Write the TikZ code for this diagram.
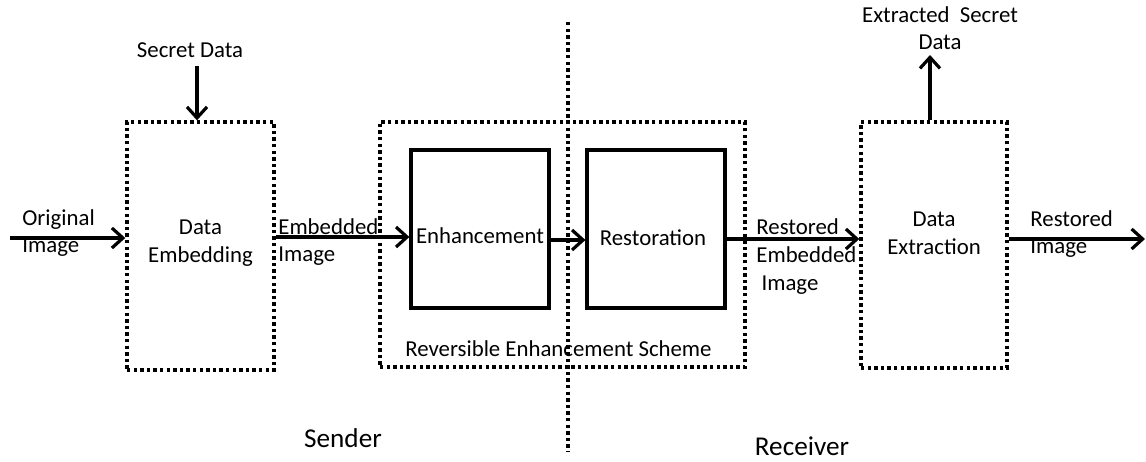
\documentclass[tikz,border=0pt]{standalone}
\usepackage{fontspec}
\setmainfont{Carlito}
\usetikzlibrary{arrows.meta,positioning}

\begin{document}
\begin{tikzpicture}[x=0.5pt,y=-0.5pt,
    font=\fontsize{11.4}{13.8}\selectfont,
    dotbox/.style={rectangle,draw,line width=1.7pt,dash pattern=on 1.7pt off 1.6pt},
    solidbox/.style={rectangle,draw,line width=1.6pt,minimum width=69pt,minimum height=79pt},
    txt/.style={inner sep=0pt,align=center},
    bigtxt/.style={inner sep=0pt,font=\fontsize{13.6}{16}\selectfont},
    arr/.style={-{Straight Barb[length=5.5pt,width=10pt]},line width=1.6pt}]
    \useasboundingbox (0,0) rectangle (1146,461);
    % boxes
    \node[dotbox,minimum width=73.5pt,minimum height=124pt] (embed) at (200.5,246) {};
    \node[dotbox,minimum width=182.5pt,minimum height=122.5pt] (scheme) at (562.5,244.5) {};
    \node[solidbox] (enh) at (480,229) {};
    \node[solidbox] (rest) at (656,229) {};
    \node[dotbox,minimum width=73pt,minimum height=123pt] (extract) at (934,245) {};
    % box texts
    \node[txt] at ([yshift=1.5pt]embed.center) {Data\\Embedding};
    \node[txt] at ([yshift=-3.5pt]enh.center) {Enhancement};
    \node[txt] at ([xshift=-1.5pt,yshift=-4.5pt]rest.center) {Restoration};
    \node[txt] at ([yshift=6pt]extract.center) {Data\\Extraction};
    \node[txt,above=6pt of scheme.south,xshift=-2pt] (schemelbl) {Reversible Enhancement Scheme};
    % divider
    \coordinate (divtop) at (568,22);
    \coordinate (divbot) at (568,452);
    \draw[line width=1.7pt,dash pattern=on 1.7pt off 1.6pt] (divtop) -- (divbot);
    % outer texts
    \node[txt] (secret) at (190,50) {Secret Data};
    \node[txt] (extsecret) at (940,28) {Extracted\ \ Secret\\Data};
    \node[txt,anchor=west,align=left] (orig) at (22,233) {Original\\Image};
    \node[txt,anchor=west,align=left] (embimg) at (278,242) {Embedded\\Image};
    \node[txt,anchor=west,align=left] (restemb) at (756,256.5) {Restored\\Embedded\\\ Image};
    \node[txt,anchor=west,align=left] (restimg) at (1030,234) {Restored\\Image};
    \node[bigtxt] (sender) at (343,438) {Sender};
    \node[bigtxt] (receiver) at (802,446) {Receiver};
    \coordinate (in) at (10,238);
    \coordinate (out) at (1145,239);
    % arrows
    \draw[arr] (in) -- ([yshift=4pt]embed.west);
    \draw[arr] ([xshift=3.5pt]secret.south) ++(0,8) -- ([xshift=3.5pt]secret.south |- embed.north);
    \draw[arr] ([yshift=4.5pt]embed.east) -- ([yshift=4.5pt]embed.east -| enh.west);
    \draw[arr] ([yshift=-5.5pt]enh.east) -- ([yshift=-5.5pt]rest.west);
    \draw[arr] ([yshift=-5pt]rest.east) -- ([yshift=-5pt]rest.east -| extract.west);
    \draw[arr] ([yshift=3pt]extract.east) -- (out);
    \draw[arr] ([xshift=-2pt]extract.north) -- ([xshift=-2pt]extract.north |- 0,55);
\end{tikzpicture}
\end{document}
